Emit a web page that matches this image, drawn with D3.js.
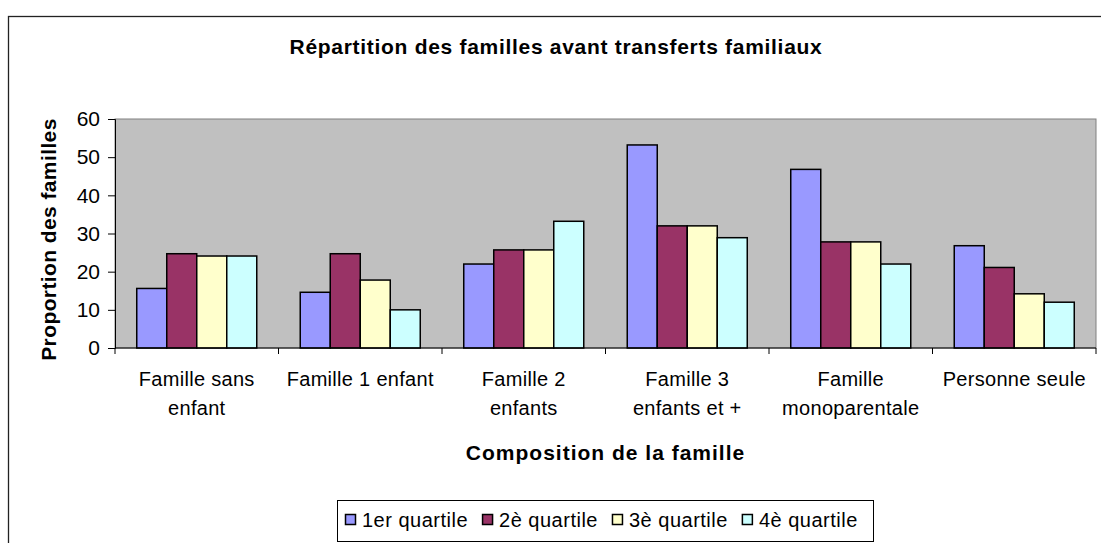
<!DOCTYPE html>
<html>
<head>
<meta charset="utf-8">
<script src="https://cdn.jsdelivr.net/npm/d3@7"></script>
<style>
body{margin:0;background:#fff;}
svg{display:block;font-family:Arial,"Liberation Sans",sans-serif;}
</style>
</head>
<body>
<svg id="chart" width="1101" height="543"></svg>
<script>
var categories=[["Famille sans","enfant"],["Famille 1 enfant"],["Famille 2","enfants"],["Famille 3","enfants et +"],["Famille","monoparentale"],["Personne seule"]];
var series=["1er quartile","2è quartile","3è quartile","4è quartile"];
var q1=[15.6,14.6,22.0,53.2,46.8,26.8];
var q2=[24.7,24.7,25.7,32.0,27.8,21.1];
var q3=[24.1,17.8,25.7,32.0,27.8,14.2];
var q4=[24.1,10.0,33.2,28.9,22.0,12.0];
var colors=["#9999FF","#993366","#FFFFCC","#CCFFFF"];
var yTicks=[0,10,20,30,40,50,60];

var values=[q1,q2,q3,q4];
var svg=d3.select("#chart");
var pLeft=115,pRight=1096,pTop=119,pBottom=348;

// outer chart border
svg.append("rect")
   .attr("x",8.5).attr("y",16.5)
   .attr("width",1200).attr("height",600)
   .style("fill","none").style("stroke","#222").style("stroke-width",1.3);

svg.append("text")
   .attr("x",556).attr("y",46)
   .attr("text-anchor","middle").attr("dominant-baseline","central")
   .style("font-size","21px").style("font-weight","bold").style("letter-spacing","0.7px")
   .text("Répartition des familles avant transferts familiaux");

var x=d3.scaleBand().domain(d3.range(categories.length)).range([pLeft,pRight]).paddingInner(0.266).paddingOuter(0.133);
var xs=d3.scaleBand().domain(d3.range(series.length)).range([0,x.bandwidth()]);
var y=d3.scaleLinear().domain([0,60]).range([pBottom,pTop]);

// plot area
svg.append("rect")
   .attr("x",pLeft).attr("y",pTop)
   .attr("width",pRight-pLeft).attr("height",pBottom-pTop)
   .style("fill","#C0C0C0").style("stroke","#808080").style("stroke-width",1);

var groups=svg.selectAll(".grp").data(categories).enter().append("g")
   .attr("class","grp")
   .attr("transform",function(d,i){return "translate("+x(i)+",0)";});
groups.selectAll("rect").data(function(d,i){return values.map(function(s){return s[i];});})
   .enter().append("rect")
   .attr("x",function(d,j){return xs(j);})
   .attr("y",function(d){return y(d);})
   .attr("width",xs.bandwidth())
   .attr("height",function(d){return pBottom-y(d);})
   .style("fill",function(d,j){return colors[j];})
   .style("stroke","#000").style("stroke-width",1.5);

// y axis
var yAxis=svg.append("g").attr("transform","translate("+pLeft+",0)")
   .call(d3.axisLeft(y).tickValues(yTicks).tickSize(7).tickPadding(8));
yAxis.select(".domain").style("stroke","#000");
yAxis.selectAll("line").style("stroke","#000");
yAxis.selectAll("text").style("font-size","21px").style("fill","#000").style("font-family","Arial,'Liberation Sans',sans-serif");

// x axis: baseline + ticks at category boundaries
var bounds=d3.range(categories.length+1).map(function(i){return i<categories.length?x(i)-x.step()*x.paddingInner()/2:pRight;});
bounds[0]=pLeft;
svg.append("line").attr("x1",pLeft).attr("x2",pRight).attr("y1",pBottom).attr("y2",pBottom).style("stroke","#000");
svg.selectAll(".xt").data(bounds).enter().append("line")
   .attr("x1",function(d){return d;}).attr("x2",function(d){return d;})
   .attr("y1",pBottom).attr("y2",pBottom+6).style("stroke","#000");

svg.selectAll(".cat").data(categories).enter().append("text")
   .attr("text-anchor","middle")
   .style("font-size","20px").style("letter-spacing","0.3px")
   .each(function(d,i){
     var t=d3.select(this);
     d.forEach(function(line,k){
       t.append("tspan").attr("x",x(i)+x.bandwidth()/2).attr("y",386+k*29).text(line);
     });
   });

svg.append("text")
   .attr("x",(pLeft+pRight)/2).attr("y",452)
   .attr("text-anchor","middle").attr("dominant-baseline","central")
   .style("font-size","21px").style("font-weight","bold").style("letter-spacing","1px")
   .text("Composition de la famille");

svg.append("text")
   .attr("transform","translate(48,"+((pTop+pBottom)/2+6)+") rotate(-90)")
   .attr("text-anchor","middle").attr("dominant-baseline","central")
   .style("font-size","21px").style("font-weight","bold").style("letter-spacing","0.4px")
   .text("Proportion des familles");

// legend
svg.append("rect")
   .attr("x",337.5).attr("y",500.5).attr("width",536).attr("height",41)
   .style("fill","#fff").style("stroke","#000").style("stroke-width",1);
var lx=345;
series.forEach(function(s,i){
  svg.append("rect").attr("x",lx+0.5).attr("y",514.5).attr("width",10).attr("height",10)
     .style("fill",colors[i]).style("stroke","#000").style("stroke-width",1.5);
  var t=svg.append("text").attr("x",lx+17).attr("y",520)
     .attr("dominant-baseline","central").style("font-size","20px").style("letter-spacing","0.5px").text(s);
  lx+=t.node().getComputedTextLength()+17+14;
});
</script>
</body>
</html>
